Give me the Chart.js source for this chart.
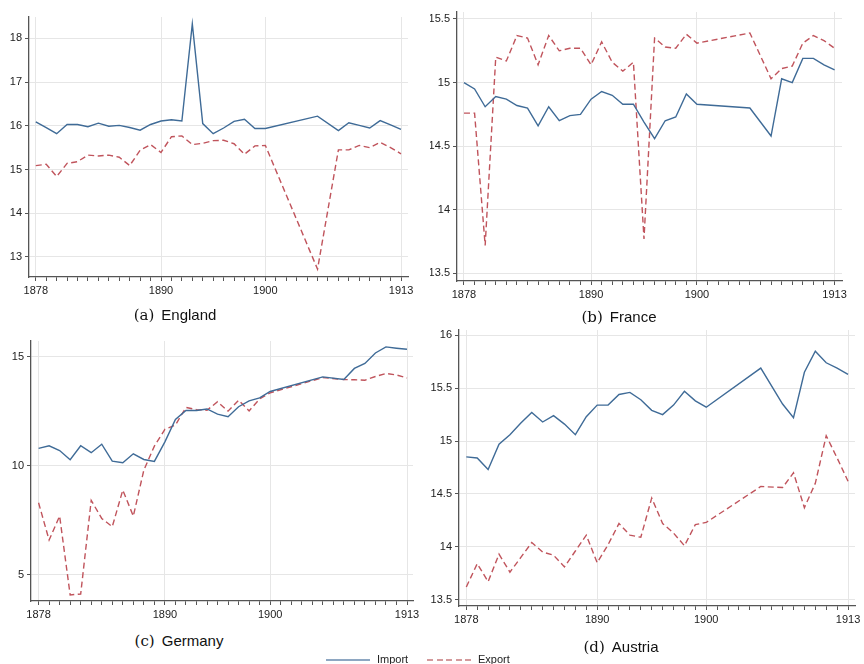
<!DOCTYPE html>
<html>
<head>
<meta charset="utf-8">
<script src="https://cdn.jsdelivr.net/npm/chart.js@4.4.1/dist/chart.umd.min.js"></script>
<style>
  html, body { margin: 0; padding: 0; background: #fff; }
  body { width: 864px; height: 664px; position: relative; overflow: hidden; }
  canvas { position: absolute; }
  .ttl { position: absolute; white-space: nowrap; color: #111; line-height: 1; transform: translate(-50%, -50%); }
  .ttl .lbl { font-family: "DejaVu Serif", serif; font-size: 15px; margin-right: 7px; }
  .ttl .nm { font-family: "Liberation Sans", Arial, sans-serif; font-size: 15px; }
  .leg { position: absolute; font-family: "Liberation Sans", Arial, sans-serif; font-size: 11px; color: #222; line-height: 1; }
  .legline { position: absolute; width: 44px; height: 1.5px; }
</style>
</head>
<body>
<canvas id="cA"></canvas>
<canvas id="cB"></canvas>
<canvas id="cC"></canvas>
<canvas id="cD"></canvas>

<div class="ttl" style="left:175px; top:315px;"><span class="lbl">(a)</span><span class="nm">England</span></div>
<div class="ttl" style="left:619px; top:317px;"><span class="lbl">(b)</span><span class="nm">France</span></div>
<div class="ttl" style="left:179px; top:641px;"><span class="lbl">(c)</span><span class="nm">Germany</span></div>
<div class="ttl" style="left:621px; top:647px;"><span class="lbl">(d)</span><span class="nm">Austria</span></div>

<div class="legline" style="left:326px; top:659px; background:#8ea7c2;"></div>
<div class="leg" style="left:377px; top:654px;">Import</div>
<div class="legline" style="left:427px; top:659px; background:repeating-linear-gradient(to right, #d49a9c 0 6px, transparent 6px 9.5px);"></div>
<div class="leg" style="left:478px; top:654px;">Export</div>

<script>
// ---------------- DATA ----------------
const years = [1878,1879,1880,1881,1882,1883,1884,1885,1886,1887,1888,1889,1890,1891,1892,1893,1894,1895,1896,1897,1898,1899,1900,1905,1907,1908,1909,1910,1911,1912,1913];

const englandImport = [16.09,15.96,15.82,16.03,16.03,15.98,16.06,15.99,16.01,15.96,15.90,16.03,16.11,16.14,16.11,18.33,16.05,15.82,15.95,16.10,16.15,15.94,15.94,16.22,15.89,16.07,16.01,15.95,16.12,16.02,15.92];
const englandExport = [15.09,15.12,14.84,15.14,15.18,15.33,15.31,15.33,15.28,15.09,15.44,15.57,15.39,15.75,15.77,15.57,15.60,15.66,15.67,15.59,15.35,15.54,15.55,12.72,15.45,15.45,15.55,15.50,15.62,15.50,15.36];

const franceImport = [15.00,14.95,14.81,14.89,14.87,14.82,14.80,14.66,14.81,14.70,14.74,14.75,14.87,14.93,14.90,14.83,14.83,14.69,14.56,14.70,14.73,14.91,14.83,14.80,14.58,15.03,15.00,15.19,15.19,15.14,15.10];
const franceExport = [14.76,14.76,13.72,15.20,15.17,15.37,15.35,15.14,15.37,15.25,15.27,15.27,15.14,15.32,15.16,15.09,15.16,13.77,15.35,15.28,15.27,15.38,15.31,15.39,15.03,15.11,15.13,15.31,15.37,15.33,15.27];

const germanyImport = [10.80,10.92,10.70,10.28,10.92,10.60,10.99,10.21,10.14,10.55,10.29,10.20,11.10,12.13,12.54,12.54,12.61,12.37,12.25,12.71,12.98,13.12,13.41,14.08,13.96,14.47,14.70,15.18,15.46,15.40,15.35];
const germanyExport = [8.30,6.59,7.69,4.07,4.11,8.41,7.58,7.20,8.88,7.69,9.80,10.90,11.67,11.87,12.68,12.58,12.55,12.94,12.51,13.01,12.52,13.07,13.35,14.05,13.96,13.95,13.93,14.10,14.24,14.17,14.03];

const austriaImport = [14.85,14.84,14.73,14.97,15.06,15.17,15.27,15.18,15.24,15.16,15.06,15.23,15.34,15.34,15.44,15.46,15.39,15.29,15.25,15.34,15.47,15.38,15.32,15.69,15.35,15.22,15.65,15.85,15.74,15.69,15.63];
const austriaExport = [13.62,13.84,13.67,13.93,13.76,13.90,14.04,13.95,13.92,13.81,13.96,14.11,13.85,14.02,14.22,14.11,14.09,14.46,14.22,14.13,14.01,14.21,14.23,14.57,14.56,14.70,14.37,14.60,15.05,14.84,14.62];

const xTickLabels = [1878, 1890, 1900, 1913];
const englandYTicks = [13, 14, 15, 16, 17, 18];
const franceYTicks = [13.5, 14, 14.5, 15, 15.5];
const germanyYTicks = [5, 10, 15];
const austriaYTicks = [13.5, 14, 14.5, 15, 15.5, 16];

// ---------------- DRAWING ----------------
const IMPORT_COLOR = '#3f6b97';
const EXPORT_COLOR = '#c0545c';
const FONT = { family: '"Liberation Sans", Arial, sans-serif', size: 11 };

function makePanel(id, geo, imp, exp, yTicks, yMin, yMax, xMin, xMax) {
  const cv = document.getElementById(id);
  cv.width = geo.cw; cv.height = geo.ch;
  cv.style.left = geo.cx + 'px'; cv.style.top = geo.cy + 'px';
  cv.style.width = geo.cw + 'px'; cv.style.height = geo.ch + 'px';
  const yW = geo.left - geo.cx;
  const xH = geo.cy + geo.ch - geo.bottom;
  const allYears = [];
  for (let y = xTickLabels[0]; y <= xTickLabels[xTickLabels.length - 1]; y++) allYears.push(y);
  new Chart(cv, {
    type: 'line',
    data: {
      datasets: [
        { label: 'Import', data: years.map((x, i) => ({ x, y: imp[i] })), borderColor: IMPORT_COLOR, borderWidth: 1.4, pointRadius: 0, tension: 0, fill: false },
        { label: 'Export', data: years.map((x, i) => ({ x, y: exp[i] })), borderColor: EXPORT_COLOR, borderWidth: 1.4, borderDash: [6, 3.5], pointRadius: 0, tension: 0, fill: false }
      ]
    },
    options: {
      responsive: false, animation: false, devicePixelRatio: 1,
      layout: { padding: { left: 0, top: geo.top - geo.cy, right: geo.cx + geo.cw - geo.right, bottom: 0 } },
      plugins: { legend: { display: false }, tooltip: { enabled: false } },
      scales: {
        x: {
          type: 'linear', min: xMin, max: xMax,
          border: { color: '#555', width: 1.3 },
          grid: {
            color: (c) => (c.tick && xTickLabels.includes(c.tick.value)) ? '#e6e6e6' : 'rgba(0,0,0,0)',
            tickColor: '#555', tickLength: 4, lineWidth: 1
          },
          ticks: { autoSkip: false, maxRotation: 0, padding: 3, color: '#222', font: FONT,
            callback: (v) => xTickLabels.includes(v) ? String(v) : '' },
          afterBuildTicks: (s) => { s.ticks = allYears.map(v => ({ value: v })); },
          afterFit: (s) => { s.height = xH; s.paddingLeft = 0; s.paddingRight = 0; }
        },
        y: {
          type: 'linear', min: yMin, max: yMax,
          border: { color: '#555', width: 1.3 },
          grid: { color: '#e6e6e6', tickColor: '#555', tickLength: 4, lineWidth: 1 },
          ticks: { padding: 3, color: '#222', font: FONT, callback: (v) => String(v) },
          afterBuildTicks: (s) => { s.ticks = yTicks.map(v => ({ value: v })); },
          afterFit: (s) => { s.width = yW; s.paddingTop = 0; s.paddingBottom = 0; }
        }
      }
    }
  });
}

makePanel('cA', { cx: 0, cy: 0, cw: 430, ch: 300, left: 29, right: 408, top: 17, bottom: 277 },
  englandImport, englandExport, englandYTicks, 12.54, 18.49, 1877.35, 1913.67);
makePanel('cB', { cx: 430, cy: 0, cw: 434, ch: 300, left: 457, right: 842, top: 12, bottom: 281 },
  franceImport, franceExport, franceYTicks, 13.44, 15.555, 1877.34, 1913.7);
makePanel('cC', { cx: 0, cy: 320, cw: 430, ch: 310, left: 31, right: 413, top: 341, bottom: 601 },
  germanyImport, germanyExport, germanyYTicks, 3.79, 15.73, 1877.28, 1913.57);
makePanel('cD', { cx: 430, cy: 320, cw: 434, ch: 320, left: 459, right: 855, top: 330, bottom: 606 },
  austriaImport, austriaExport, austriaYTicks, 13.44, 16.05, 1877.33, 1913.64);
</script>
</body>
</html>
